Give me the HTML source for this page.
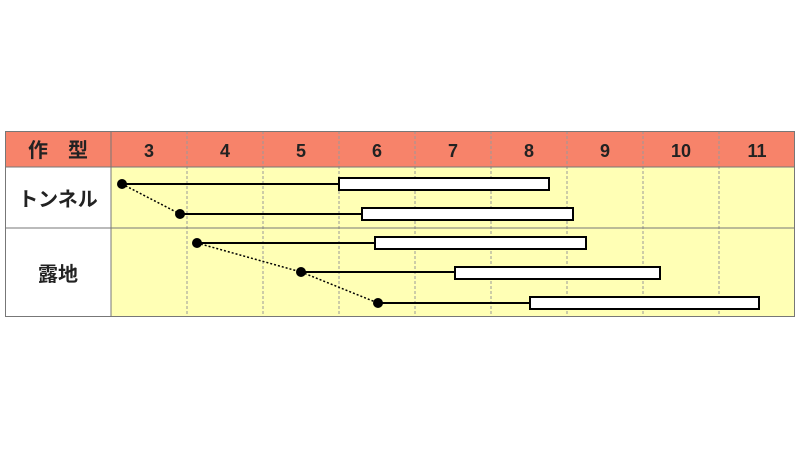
<!DOCTYPE html>
<html><head><meta charset="utf-8"><style>body{margin:0;background:#fff}svg{display:block}</style></head><body>
<svg width="800" height="450" xmlns="http://www.w3.org/2000/svg" font-family="Liberation Sans, Noto Sans CJK JP, sans-serif">
<rect x="5" y="131" width="790" height="36" fill="#F7836A"/>
<rect x="5" y="167" width="106" height="150" fill="#fff"/>
<rect x="111" y="167" width="684" height="150" fill="#FFFFB5"/>
<g stroke="#999" stroke-width="1" stroke-dasharray="3,2">
<line x1="187" y1="131" x2="187" y2="317"/><line x1="263" y1="131" x2="263" y2="317"/><line x1="339" y1="131" x2="339" y2="317"/><line x1="415" y1="131" x2="415" y2="317"/><line x1="491" y1="131" x2="491" y2="317"/><line x1="567" y1="131" x2="567" y2="317"/><line x1="643" y1="131" x2="643" y2="317"/><line x1="719" y1="131" x2="719" y2="317"/>
</g>
<g stroke="#777" stroke-width="1" fill="none">
<rect x="5.5" y="131.5" width="789" height="185"/>
<line x1="111" y1="131" x2="111" y2="317"/>
<line x1="5" y1="167" x2="795" y2="167"/>
<line x1="5" y1="228" x2="795" y2="228"/>
</g>
<g font-size="18" font-weight="bold" fill="#222" text-anchor="middle">
<text x="58" y="157" font-size="20">作　型</text>
<text x="149" y="157">3</text><text x="225" y="157">4</text><text x="301" y="157">5</text><text x="377" y="157">6</text><text x="453" y="157">7</text><text x="529" y="157">8</text><text x="605" y="157">9</text><text x="681" y="157">10</text><text x="757" y="157">11</text>
<text x="58" y="206" font-size="20">トンネル</text>
<text x="58" y="281" font-size="20">露地</text>
</g>
<g stroke="#000" stroke-width="1.5" stroke-dasharray="2,2">
<line x1="122" y1="184" x2="180" y2="214"/>
<line x1="197" y1="243" x2="301" y2="272"/>
<line x1="301" y1="272" x2="378" y2="303"/>
</g>
<g stroke="#000" stroke-width="2">
<line x1="122" y1="184" x2="339" y2="184"/>
<line x1="180" y1="214" x2="362" y2="214"/>
<line x1="197" y1="243" x2="375" y2="243"/>
<line x1="301" y1="272" x2="455" y2="272"/>
<line x1="378" y1="303" x2="530" y2="303"/>
</g>
<g stroke="#000" stroke-width="2" fill="#fff">
<rect x="339" y="178" width="210" height="12"/>
<rect x="362" y="208" width="211" height="12"/>
<rect x="375" y="237" width="211" height="12"/>
<rect x="455" y="267" width="205" height="12"/>
<rect x="530" y="297" width="229" height="12"/>
</g>
<g fill="#000">
<circle cx="122" cy="184" r="5"/><circle cx="180" cy="214" r="5"/><circle cx="197" cy="243" r="5"/><circle cx="301" cy="272" r="5"/><circle cx="378" cy="303" r="5"/>
</g>
</svg>
</body></html>
